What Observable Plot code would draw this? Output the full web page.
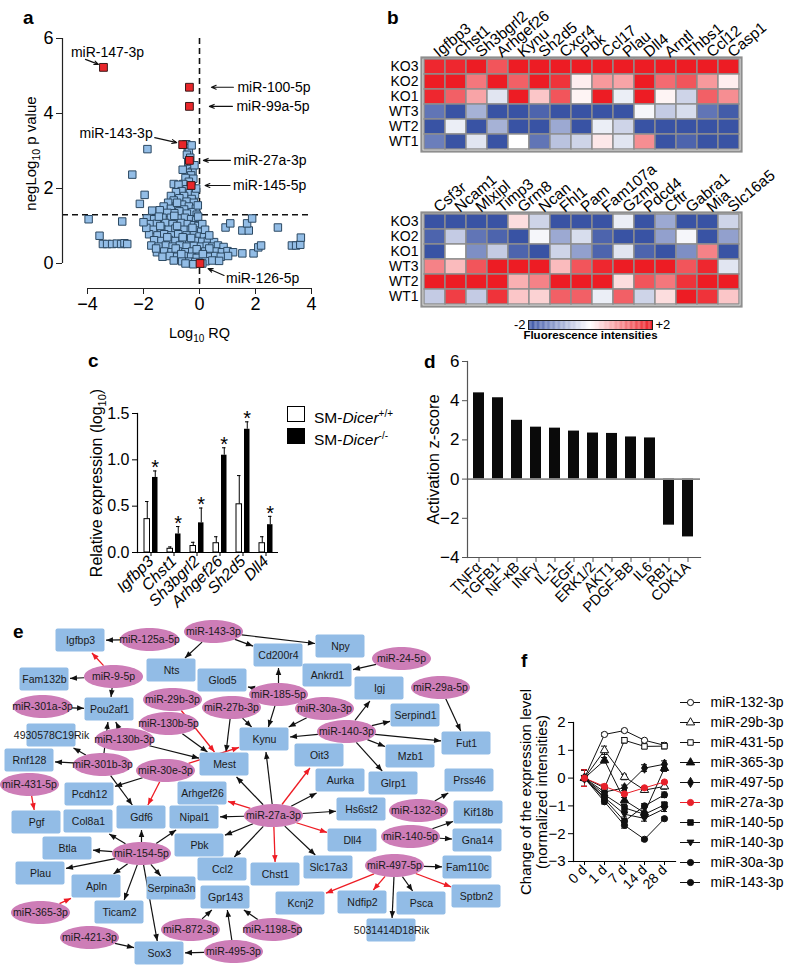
<!DOCTYPE html>
<html><head><meta charset="utf-8">
<script src="https://cdn.jsdelivr.net/npm/d3@7"></script>
<script src="https://cdn.jsdelivr.net/npm/@observablehq/plot@0.6"></script>
<style>
body{margin:0;background:#fff;}
#fig{position:relative;width:787px;height:966px;overflow:hidden;background:#fff;font-family:"Liberation Sans",Arial,Helvetica,sans-serif;color:#000;}
.letter{position:absolute;font-weight:bold;font-size:19px;line-height:1;}
.leg{position:absolute;font-size:15.5px;line-height:18px;white-space:nowrap;}
.sw{position:absolute;width:18px;height:16px;border:1px solid #000;box-sizing:border-box;}
</style></head><body><div id="fig"></div>
<script>
// ================= DATA =================
// ---- a: volcano plot (Log10 RQ, negLog10 p value)
const volcanoBlue = [
 [-3.96,1.18],[-2.76,1.12],[-3.57,0.74],[-3.45,0.52],[-3.3,0.52],[-3.12,0.52],[-2.95,0.53],[-2.8,0.52],[-2.68,0.54],[-2.58,0.52],
 [-2.4,2.37],[-1.86,3.05],[-1.96,1.83],[-2.13,1.59],[-1.69,1.41],
 [-0.47,3.18],[-0.42,3.08],[-0.38,2.98],[-0.45,2.9],[-0.33,2.82],[-0.4,2.7],[-0.3,2.6],[-0.36,2.52],[-0.25,2.45],[-0.42,2.42],
 [-0.3,2.35],[-0.5,2.28],[-0.22,2.26],[-0.38,2.18],[-0.58,2.12],[-0.92,2.12],[-0.75,2.1],[-0.28,2.05],[-0.46,1.98],[-0.64,1.93],
 [-0.84,1.9],[-0.34,1.88],[-0.16,1.84],[-1.02,1.8],[-0.55,1.8],[-0.72,1.74],[-0.28,1.72],[-0.92,1.68],[-0.46,1.65],[-1.12,1.62],
 [-0.2,1.62],[-0.62,1.57],[-0.82,1.54],[-1.28,1.52],[-0.38,1.52],[-0.13,1.46],[-1.02,1.46],[-0.55,1.44],[-0.72,1.39],[-1.42,1.42],
 [-0.26,1.37],[-0.9,1.34],[-0.45,1.33],[-0.1,1.3],[-0.06,1.55],[-0.12,2.0],[-0.18,2.62],[-0.28,3.15],[-0.6,2.5],[-0.8,1.62],[-1.15,1.35],
 [-1.88,1.2],[-1.62,1.18],[-1.32,1.22],[-1.02,1.22],[-0.76,1.2],[-0.52,1.22],[-0.3,1.18],[-0.12,1.15],
 [-1.76,1.05],[-1.52,1.06],[-1.22,1.08],[-0.96,1.05],[-0.66,1.08],[-0.42,1.05],[-0.2,1.02],[-0.04,1.0],
 [-1.66,0.9],[-1.36,0.92],[-1.1,0.9],[-0.86,0.93],[-0.56,0.9],[-0.31,0.9],[-0.1,0.88],[0.06,0.85],
 [-1.8,0.78],[-1.5,0.75],[-1.26,0.78],[-1.0,0.75],[-0.76,0.78],[-0.46,0.75],[-0.2,0.76],[0.0,0.72],[0.16,0.7],
 [-1.62,0.62],[-1.36,0.6],[-1.1,0.63],[-0.86,0.6],[-0.6,0.62],[-0.36,0.6],[-0.1,0.6],[0.1,0.58],[0.3,0.6],[0.52,0.57],
 [-1.72,0.48],[-1.46,0.45],[-1.2,0.48],[-0.96,0.45],[-0.7,0.48],[-0.46,0.45],[-0.2,0.47],[0.05,0.45],[0.26,0.47],[0.46,0.45],[0.66,0.48],[0.86,0.44],
 [-1.52,0.3],[-1.26,0.32],[-1.0,0.3],[-0.76,0.32],[-0.5,0.3],[-0.26,0.32],[0.0,0.3],[0.2,0.32],[0.4,0.3],[0.6,0.32],[0.8,0.3],[1.0,0.33],[1.2,0.3],
 [-1.32,0.18],[-1.06,0.2],[-0.8,0.18],[-0.56,0.2],[-0.3,0.18],[-0.1,0.15],[0.15,0.2],[0.36,0.18],[0.56,0.2],[0.76,0.18],[1.02,0.2],
 [-0.92,0.08],[-0.62,0.06],[-0.36,0.05],[-0.15,0.04],[0.22,0.06],[0.46,0.08],[0.7,0.07],[-0.5,0.0],[-0.22,-0.02],[0.1,0.0],
 [-1.4,1.0],[-0.8,1.0],[-0.25,0.95],[-1.15,0.7],[-0.6,0.7],[-0.3,0.68],[-1.55,0.4],[-0.85,0.4],[-0.1,0.38],[0.35,0.4],
 [-0.65,0.25],[0.12,0.25],[-1.9,0.95],[-2.0,1.1],[-1.45,1.25],[-0.9,1.27],[-0.05,1.25],[0.1,1.05],[0.2,0.9],[0.35,0.75],
 [0.93,0.96],[1.1,1.07],[1.53,0.88],[1.76,0.88],[1.7,1.07],[1.88,1.2],[1.53,0.27],[1.93,0.27],[2.1,0.43],[2.2,0.48],
 [2.8,0.96],[3.3,0.48],[3.45,0.48],[3.6,0.5],[3.62,0.69]
];
const volcanoRedNames = ["miR-147-3p","miR-100-5p","miR-99a-5p","miR-143-3p","miR-27a-3p","miR-145-5p","miR-126-5p"];
const volcanoRedX = [-3.43,-0.36,-0.36,-0.6,-0.36,-0.3,0.02];
const volcanoRedY = [5.23,4.7,4.19,3.17,2.75,2.08,0.0];
const aXTicks = [-4,-2,0,2,4];
const aYTicks = [0,2,4,6];
const pThreshold = 1.3;

// ---- b: heatmaps
const hmSamples = ["KO3","KO2","KO1","WT3","WT2","WT1"];
const hmTopGenes = ["Igfbp3","Chst1","Sh3bgrl2","Arhgef26","Kynu","Sh2d5","Cxcr4","Pbk","Ccl17","Plau","Dll4","Arntl","Thbs1","Ccl12","Casp1"];
const hmTopValues = [
 [1.9,1.9,2,1.5,2,2,2,2,2,2,2,2,2,2,2],
 [2,2,1.2,2,1.4,2,1.8,0.15,0.9,0.8,2,1.3,1.5,0.9,0.15],
 [1.9,1.4,0.8,-0.3,2,0.5,1.5,0.1,2,-0.2,2,0.1,-0.5,1.4,1.0],
 [-1.6,-2,-0.9,-2,-2,-1.8,-2,-2,-2,-2,-0.1,-0.6,-0.4,-1.6,-1.9],
 [-2,-0.2,-2,-0.9,-2,-2,-1,-2,-0.2,-0.5,-2,-2,-2,-2,-2],
 [-1.5,-2,-0.3,-2,0,-1.6,-0.7,-0.5,0.2,-0.3,1.0,-2,-1.8,-2,-2]
];
const hmBottomGenes = ["Csf3r","Ncam1","Mlxipl","Timp3","Grm8","Ncan","Fhl1","Pam","Fam107a","Gzmb","Pdcd4","Cftr","Gabra1","Mia","Slc16a5"];
const hmBottomValues = [
 [-2,-2,-2,-2,0.3,-0.5,-2,-2,-2,-0.2,-2,-1,-2,-2,-0.5],
 [-1.8,-0.6,-1.6,-1.8,-2,-0.1,-1,-0.4,-1.8,-2,-2,-1.1,-0.1,-2,-1.1],
 [-2,0,-1.3,-0.6,-1.8,-2,-0.5,-1.1,-1.8,-0.3,-1.8,-2,-1.3,1.1,-2],
 [1.1,0.6,1.5,2,2,2,0.6,1.5,1.9,2,2,2,1.5,1.9,-0.3],
 [2,2,2,2,0.7,1.1,2,2,2,0.3,1.5,1.2,1.8,2,2],
 [-0.6,1.7,-0.6,1.8,0.5,0.4,1.4,1.4,-0.2,1.4,-0.5,0.3,2,1.8,0.5]
];
const hmRange = [-2, 2];

// ---- c: relative expression
const cGenes = ["Igfbp3","Chst1","Sh3bgrl2","Arhgef26","Sh2d5","Dll4"];
const cWT = [0.36,0.04,0.07,0.10,0.52,0.10];
const cWTErr = [0.19,0.02,0.04,0.07,0.31,0.07];
const cKO = [0.81,0.20,0.32,1.05,1.33,0.30];
const cKOErr = [0.07,0.08,0.16,0.08,0.08,0.09];
const cYTicks = [0,0.5,1,1.5];

// ---- d: activation z-score
const dPathways = ["TNFα","TGFB1","NF-κB","INFγ","IL-1","EGF","ERK1/2","AKT1","PDGF-BB","IL6","RB1","CDK1A"];
const dZ = [4.4,4.15,3.0,2.65,2.6,2.45,2.35,2.33,2.15,2.1,-2.35,-2.95];
const dYTicks = [-4,-2,0,2,4,6];

// ---- e: network
const geneNodes = [
 ["Igfbp3",80,640],["Cd200r4",278,655],["Nts",171,670],["Fam132b",44,679],["Glod5",222,680],["Npy",340,646],
 ["Ankrd1",327,675],["Igj",379,688],["Serpind1",415,715],["Pou2af1",109,709],["4930578C19Rik",51,735],["Kynu",264,739],
 ["Fut1",466,743],["Rnf128",29,760],["Mest",224,764],["Oit3",319,755],["Mzb1",410,756],["Aurka",340,780],
 ["Glrp1",393,783],["Prss46",469,780],["Pcdh12",89,794],["Arhgef26",202,793],["Hs6st2",361,809],["Kif18b",478,812],
 ["Pgf",36,822],["Col8a1",88,821],["Gdf6",141,817],["Nipal1",194,817],["Dll4",352,840],["Gna14",477,840],
 ["Pbk",199,845],["Btla",67,848],["Slc17a3",328,867],["Fam110c",467,867],["Ccl2",222,869],["Chst1",275,874],
 ["Plau",40,873],["Apln",96,886],["Serpina3n",171,888],["Gpr143",225,897],["Sptbn2",476,896],["Kcnj2",300,903],
 ["Ndfip2",362,902],["Psca",421,903],["Ticam2",119,912],["5031414D18Rik",391,930],["Sox3",159,953]
];
const mirNodes = [
 ["miR-125a-5p",149,639],["miR-143-3p",213,631],["miR-9-5p",113,676],["miR-185-5p",278,694],["miR-24-5p",401,658],
 ["miR-29a-5p",440,687],["miR-29b-3p",172,699],["miR-301a-3p",42,706],["miR-27b-3p",231,707],["miR-30a-3p",324,708],
 ["miR-130b-5p",168,723],["miR-140-3p",346,731],["miR-130b-3p",124,739],["miR-301b-3p",102,764],["miR-30e-3p",165,770],
 ["miR-431-5p",29,784],["miR-27a-3p",273,815],["miR-132-3p",418,810],["miR-140-5p",410,836],["miR-154-5p",141,853],
 ["miR-497-5p",394,865],["miR-365-3p",40,912],["miR-872-3p",190,929],["miR-1198-5p",272,929],["miR-421-3p",89,937],
 ["miR-495-3p",233,951]
];
const edgesBlack = [
 ["miR-125a-5p","Igfbp3"],["miR-9-5p","Fam132b"],["miR-9-5p","Pou2af1"],["miR-301a-3p","Pou2af1"],
 ["miR-143-3p","Nts"],["miR-143-3p","Cd200r4"],["miR-143-3p","Npy"],["miR-185-5p","Glod5"],["miR-185-5p","Cd200r4"],
 ["miR-185-5p","Kynu"],["miR-27b-3p","Kynu"],["miR-27b-3p","Mest"],["miR-130b-5p","Mest"],["miR-130b-3p","Pou2af1"],
 ["miR-130b-3p","Mest"],["miR-301b-3p","Rnf128"],["miR-301b-3p","Pou2af1"],["miR-301b-3p","4930578C19Rik"],
 ["miR-301b-3p","Gdf6"],["miR-30e-3p","Pcdh12"],["miR-30a-3p","Kynu"],["miR-24-5p","Ankrd1"],["miR-29a-5p","Fut1"],
 ["miR-140-3p","Kynu"],["miR-140-3p","Igj"],["miR-140-3p","Serpind1"],["miR-140-3p","Fut1"],["miR-140-3p","Mzb1"],
 ["miR-140-3p","Glrp1"],["miR-27a-3p","Mest"],["miR-27a-3p","Kynu"],["miR-27a-3p","Nipal1"],["miR-27a-3p","Pbk"],
 ["miR-27a-3p","Ccl2"],["miR-27a-3p","Aurka"],["miR-27a-3p","Hs6st2"],["miR-27a-3p","Slc17a3"],["miR-132-3p","Prss46"],
 ["miR-140-5p","Kif18b"],["miR-140-5p","Gna14"],["miR-497-5p","Fam110c"],["miR-497-5p","Psca"],["miR-497-5p","5031414D18Rik"],
 ["miR-154-5p","Gdf6"],["miR-154-5p","Nipal1"],["miR-154-5p","Col8a1"],["miR-154-5p","Btla"],["miR-154-5p","Plau"],
 ["miR-154-5p","Apln"],["miR-154-5p","Ticam2"],["miR-154-5p","Sox3"],["miR-154-5p","Serpina3n"],["miR-421-3p","Sox3"],
 ["miR-495-3p","Sox3"],["miR-495-3p","Gpr143"],["miR-872-3p","Gpr143"],["miR-1198-5p","Gpr143"]
];
const edgesRed = [
 ["miR-9-5p","Igfbp3"],["miR-29b-3p","Mest"],["miR-30e-3p","Gdf6"],["miR-30e-3p","Kynu"],["miR-27a-3p","Arhgef26"],
 ["miR-27a-3p","Chst1"],["miR-27a-3p","Dll4"],["miR-27a-3p","Oit3"],["miR-497-5p","Kcnj2"],["miR-497-5p","Ndfip2"],
 ["miR-497-5p","Sptbn2"],["miR-431-5p","Pgf"],["miR-365-3p","Apln"]
];

// ---- f: time course
const fDays = ["0 d","1 d","7 d","14 d","28 d"];
const fSeries = ["miR-132-3p","miR-29b-3p","miR-431-5p","miR-365-3p","miR-497-5p","miR-27a-3p","miR-140-5p","miR-140-3p","miR-30a-3p","miR-143-3p"];
const f132_3p = [0, 1.57, 1.71, 1.36, 1.18];
const f29b_3p = [0, 1.0, 0.04, -0.43, -0.3];
const f431_5p = [0, -0.35, 1.36, 1.14, 1.15];
const f365_3p = [0, 0.64, -0.8, -1.25, 0.36];
const f497_5p = [0, -0.5, -0.35, 0.36, 0.5];
const f27a_3p = [0, -0.3, -0.57, -0.35, -0.14];
const f140_5p = [0, -0.6, -1.07, -1.3, -0.96];
const f140_3p = [0, -0.7, -1.3, -1.45, -1.1];
const f30a_3p = [0, -0.75, -1.55, -1.0, -0.6];
const f143_3p = [0, -0.85, -1.7, -2.2, -1.46];
const f132_3pErr = [0.3,0.06,0.05,0.06,0.1];
const f29b_3pErr = [0.3,0.15,0.1,0.08,0.1];
const f431_5pErr = [0.3,0.08,0.1,0.08,0.1];
const f365_3pErr = [0.3,0.1,0.1,0.1,0.12];
const f497_5pErr = [0.3,0.1,0.1,0.12,0.12];
const f27a_3pErr = [0.3,0.08,0.06,0.05,0.05];
const f140_5pErr = [0.3,0.1,0.12,0.1,0.1];
const f140_3pErr = [0.3,0.08,0.1,0.1,0.1];
const f30a_3pErr = [0.3,0.08,0.1,0.08,0.1];
const f143_3pErr = [0.3,0.08,0.1,0.06,0.06];
const fYTicks = [-3,-2,-1,0,1,2];

// ================= DRAWING =================
const FONT = '"Liberation Sans", Arial, Helvetica, sans-serif';
const fig = document.getElementById("fig");
const baseStyle = {fontFamily: FONT, fontSize: "14px", overflow: "visible", background: "transparent", color: "#000"};
function mount(el, left, top) { el.style.position = "absolute"; el.style.left = left + "px"; el.style.top = top + "px"; fig.appendChild(el); return el; }
function rich(svg, full, html) {
  d3.select(svg).selectAll("text").filter(function() { return this.textContent === full; }).html(html);
}
function letter(t, left, top) { const d = document.createElement("div"); d.className = "letter"; d.textContent = t; d.style.left = left + "px"; d.style.top = top + "px"; fig.appendChild(d); }

// ---------- Panel a ----------
{
  const pxX = 28, pxY = 37.5, gap = 25;           // px per unit, offset of axes
  const xMin = aXTicks[0] - gap / pxX, yMin = aYTicks[0] - gap / pxY;
  const red = volcanoRedNames.map((n, i) => ({name: n, x: volcanoRedX[i], y: volcanoRedY[i]}));
  const layout = {
    "miR-147-3p": {t: [4, -15], anchor: "middle", a: [[-18, -8], [-5, -3]]},
    "miR-100-5p": {t: [48, 0], anchor: "start", a: [[44, 0], [22, 0]]},
    "miR-99a-5p": {t: [47, 0], anchor: "start", a: [[43, 0], [20, 0]]},
    "miR-143-3p": {t: [-30, -11], anchor: "end", a: [[-28, -7], [-6, -2]]},
    "miR-27a-3p": {t: [44, 0], anchor: "start", a: [[41, 0], [14, 0]]},
    "miR-145-5p": {t: [42, 0], anchor: "start", a: [[39, 0], [14, 0]]},
    "miR-126-5p": {t: [26, 15], anchor: "start", a: [[24, 12], [8, 5]]}
  };
  const notes = red.map(d => {
    const L = layout[d.name];
    return {...d, anchor: L.anchor,
      tx: d.x + L.t[0] / pxX, ty: d.y - L.t[1] / pxY,
      x1: d.x + L.a[0][0] / pxX, y1: d.y - L.a[0][1] / pxY,
      x2: d.x + L.a[1][0] / pxX, y2: d.y - L.a[1][1] / pxY};
  });
  const textMarks = ["start", "middle", "end"].map(an =>
    Plot.text(notes.filter(d => d.anchor === an), {x: "tx", y: "ty", text: "name", textAnchor: an, fontSize: 14}));
  const p = Plot.plot({
    width: 330, height: 345, marginLeft: 62, marginRight: 19, marginTop: 38, marginBottom: 57,
    style: baseStyle,
    x: {domain: [xMin, aXTicks[aXTicks.length - 1]], label: null},
    y: {domain: [yMin, aYTicks[aYTicks.length - 1]], label: null},
    marks: [
      Plot.ruleY([pThreshold], {strokeDasharray: "6,4", strokeWidth: 1.6, stroke: "#111"}),
      Plot.ruleX([0], {strokeDasharray: "6,4", strokeWidth: 1.6, stroke: "#111"}),
      Plot.dot(volcanoBlue, {x: d => d[0], y: d => d[1], symbol: "square", r: 4.2, fill: "#93bde6", stroke: "#2b4862", strokeWidth: 1}),
      Plot.dot(red, {x: "x", y: "y", symbol: "square", r: 4.4, fill: "#e8262a", stroke: "#3a1a1a", strokeWidth: 1}),
      Plot.ruleX([xMin], {y1: aYTicks[0], y2: aYTicks[aYTicks.length - 1], strokeWidth: 1.2, stroke: "#222"}),
      Plot.ruleY([yMin], {x1: aXTicks[0], x2: aXTicks[aXTicks.length - 1], strokeWidth: 1.2, stroke: "#222"}),
      Plot.axisY(aYTicks, {tickSize: 6, tickPadding: 3, fontSize: 18, stroke: "#222"}),
      Plot.axisX(aXTicks, {tickSize: 6, tickPadding: 3, fontSize: 18, stroke: "#222"}),
      Plot.arrow(notes, {x1: "x1", y1: "y1", x2: "x2", y2: "y2", headLength: 7, headAngle: 45, strokeWidth: 1.1, stroke: "#111"}),
      ...textMarks,
      Plot.text(["negLog10 p value"], {frameAnchor: "left", textAnchor: "middle", rotate: -90, dx: -31, dy: -10, fontSize: 15}),
      Plot.text(["Log10 RQ"], {x: 0, frameAnchor: "bottom", textAnchor: "middle", dy: 49, fontSize: 14.5})
    ]
  });
  mount(p, 0, 0);
  rich(p, "negLog10 p value", 'negLog<tspan dy="4" font-size="10.5">10</tspan><tspan dy="-4"> p value</tspan>');
  rich(p, "Log10 RQ", 'Log<tspan dy="4" font-size="10">10</tspan><tspan dy="-4"> RQ</tspan>');
  letter("a", 23, 8);
}

// ---------- Panel b ----------
const hmColor = {type: "linear", domain: [hmRange[0], 0, hmRange[1]], range: ["#3953a4", "#ffffff", "#ed1c24"], clamp: true};
function heatmap(genes, values) {
  const cells = hmSamples.flatMap((s, i) => genes.map((g, j) => ({sample: s, gene: g, v: values[i][j]})));
  return Plot.plot({
    width: 400, height: 154, marginLeft: 41, marginRight: 39, marginTop: 57, marginBottom: 3,
    style: baseStyle,
    x: {domain: genes, padding: 0, axis: null, label: null},
    y: {domain: hmSamples, padding: 0, axis: null, label: null},
    color: hmColor,
    marks: [
      Plot.cell(cells, {x: "gene", y: "sample", fill: "v", stroke: "#8e8e8e", strokeWidth: 1.4}),
      Plot.frame({stroke: "#8e8e8e", strokeWidth: 2.2}),
      Plot.text(hmSamples, {y: d => d, frameAnchor: "left", textAnchor: "end", dx: -3, fontSize: 14}),
      Plot.text(genes, {x: d => d, frameAnchor: "top", textAnchor: "start", rotate: -40, dx: -3, dy: -8, fontSize: 15.5})
    ]
  });
}
mount(heatmap(hmTopGenes, hmTopValues), 380, 0);
mount(heatmap(hmBottomGenes, hmBottomValues), 380, 155);
{
  const ramp = d3.range(hmRange[0], hmRange[1], 0.04);
  const p = Plot.plot({
    width: 175, height: 35, marginLeft: 23, marginRight: 28, marginTop: 8, marginBottom: 18,
    style: baseStyle,
    x: {domain: hmRange, axis: null}, y: {domain: [0, 1], axis: null},
    color: hmColor,
    marks: [
      Plot.rect(ramp, {x1: d => d, x2: d => d + 0.042, y1: 0, y2: 1, fill: d => d + 0.02}),
      Plot.frame({stroke: "#222", strokeWidth: 1}),
      Plot.text(["-2"], {frameAnchor: "left", textAnchor: "end", dx: -3, fontSize: 13}),
      Plot.text(["+2"], {frameAnchor: "right", textAnchor: "start", dx: 3, fontSize: 13}),
      Plot.text(["Fluorescence intensities"], {frameAnchor: "bottom", textAnchor: "middle", dy: 9, fontSize: 11.5, fontWeight: "bold"})
    ]
  });
  mount(p, 505, 312);
  letter("b", 387, 8);
}

// ---------- Panel c ----------
{
  const data = cGenes.map((g, i) => ({gene: g, wt: cWT[i], wtErr: cWTErr[i], ko: cKO[i], koErr: cKOErr[i]}));
  const p = Plot.plot({
    width: 390, height: 240, marginLeft: 137, marginRight: 112, marginTop: 33, marginBottom: 68,
    style: baseStyle,
    x: {domain: cGenes, padding: 0, label: null},
    y: {domain: [cYTicks[0], cYTicks[cYTicks.length - 1]], label: null},
    marks: [
      Plot.ruleX(data, {x: "gene", y1: "wt", y2: d => d.wt + d.wtErr, dx: -3.75, strokeWidth: 1}),
      Plot.tickY(data, {x: "gene", y: d => d.wt + d.wtErr, insetLeft: 6, insetRight: 13.5, strokeWidth: 1}),
      Plot.ruleX(data, {x: "gene", y1: "ko", y2: d => d.ko + d.koErr, dx: 4.25, strokeWidth: 1}),
      Plot.tickY(data, {x: "gene", y: d => d.ko + d.koErr, insetLeft: 14, insetRight: 5.5, strokeWidth: 1}),
      Plot.barY(data, {x: "gene", y: "wt", fill: "white", stroke: "#000", strokeWidth: 1, insetLeft: 5, insetRight: 12.5}),
      Plot.barY(data, {x: "gene", y: "ko", fill: "#000", insetLeft: 13, insetRight: 4.5}),
      Plot.text(data, {x: "gene", y: d => d.ko + d.koErr, text: () => "*", dx: 4.25, dy: -3, fontSize: 20}),
      Plot.ruleY([0], {strokeWidth: 1.2}),
      Plot.frame({anchor: "left", strokeWidth: 1.2}),
      Plot.axisY(cYTicks, {tickFormat: d3.format(".1f"), tickSize: 5, tickPadding: 3, fontSize: 16}),
      Plot.axisX({tickSize: 4, tickRotate: -45, tickPadding: 2, fontSize: 16, fontStyle: "italic"}),
      Plot.text(["Relative expression (log10)"], {frameAnchor: "left", textAnchor: "middle", rotate: -90, dx: -41, fontSize: 16})
    ]
  });
  mount(p, 0, 380);
  rich(p, "Relative expression (log10)", 'Relative expression (log<tspan dy="4" font-size="11">10</tspan><tspan dy="-4">)</tspan>');
  letter("c", 88, 351);
  const add = (html, cls, left, top, extra) => { const d = document.createElement("div"); d.className = cls; d.innerHTML = html; d.style.left = left + "px"; d.style.top = top + "px"; if (extra) Object.assign(d.style, extra); fig.appendChild(d); };
  add("", "sw", 287, 406, {background: "#fff"});
  add("", "sw", 287, 428, {background: "#000"});
  add('SM-<i>Dicer</i><sup style="font-size:10px">+/+</sup>', "leg", 314, 405);
  add('SM-<i>Dicer</i><sup style="font-size:10px">-/-</sup>', "leg", 314, 427);
}

// ---------- Panel d ----------
{
  const data = dPathways.map((n, i) => ({name: n, z: dZ[i]}));
  const p = Plot.plot({
    width: 397, height: 280, marginLeft: 77, marginRight: 87, marginTop: 21, marginBottom: 63,
    style: baseStyle,
    x: {domain: dPathways, paddingInner: 0.41, paddingOuter: 0.205, label: null},
    y: {domain: [dYTicks[0], dYTicks[dYTicks.length - 1]], label: null},
    marks: [
      Plot.barY(data, {x: "name", y: "z", fill: "#0a0a0a"}),
      Plot.ruleY([0], {stroke: "#8a8a8a", strokeWidth: 1.6}),
      Plot.frame({anchor: "left", stroke: "#555", strokeWidth: 1.2}),
      Plot.frame({anchor: "bottom", stroke: "#555", strokeWidth: 1.2}),
      Plot.axisY(dYTicks, {tickSize: 5, tickPadding: 3, fontSize: 17, stroke: "#555"}),
      Plot.axisX({tickSize: 5, tickRotate: -45, tickPadding: 2, fontSize: 14.5, stroke: "#555"}),
      Plot.text(["Activation z-score"], {frameAnchor: "left", textAnchor: "middle", rotate: -90, dx: -34, fontSize: 16.5})
    ]
  });
  mount(p, 390, 340);
  letter("d", 424, 352);
}

// ---------- Panel e ----------
{
  const W = 49, H = 23, RX = 29.5, RY = 11.5;
  const genes = geneNodes.map(([name, x, y]) => ({name, x, y}));
  const mirs = mirNodes.map(([name, x, y]) => ({name, x, y}));
  const pos = new Map([...genes, ...mirs].map(d => [d.name, d]));
  function edgeXY([s, t]) {
    const a = pos.get(s), b = pos.get(t);
    const dx = b.x - a.x, dy = b.y - a.y;
    const ts = 1 / Math.sqrt((dx / RX) ** 2 + (dy / RY) ** 2);
    const te = Math.min((W / 2 + 1) / Math.abs(dx || 1e-9), (H / 2 + 1) / Math.abs(dy || 1e-9));
    return {x1: a.x + dx * ts, y1: a.y + dy * ts, x2: b.x - dx * te, y2: b.y - dy * te};
  }
  const ellipse = {draw(ctx) {
    const k = 0.5523;
    ctx.moveTo(RX, 0);
    ctx.bezierCurveTo(RX, RY * k, RX * k, RY, 0, RY);
    ctx.bezierCurveTo(-RX * k, RY, -RX, RY * k, -RX, 0);
    ctx.bezierCurveTo(-RX, -RY * k, -RX * k, -RY, 0, -RY);
    ctx.bezierCurveTo(RX * k, -RY, RX, -RY * k, RX, 0);
    ctx.closePath();
  }};
  const p = Plot.plot({
    width: 510, height: 406, margin: 0,
    style: baseStyle,
    x: {domain: [0, 510], range: [0, 510], axis: null},
    y: {domain: [560, 966], range: [0, 406], axis: null},
    marks: [
      Plot.link(edgesBlack.map(edgeXY), {x1: "x1", y1: "y1", x2: "x2", y2: "y2", stroke: "#111", strokeWidth: 1.2, markerEnd: "arrow"}),
      Plot.link(edgesRed.map(edgeXY), {x1: "x1", y1: "y1", x2: "x2", y2: "y2", stroke: "#ee1c24", strokeWidth: 1.3, markerEnd: "arrow"}),
      Plot.rect(genes, {x1: d => d.x - W / 2, x2: d => d.x + W / 2, y1: d => d.y - H / 2, y2: d => d.y + H / 2, fill: "#92bce6", rx: 2}),
      Plot.dot(mirs, {x: "x", y: "y", symbol: ellipse, r: 5, fill: "#cd7db7", stroke: "none"}),
      Plot.text([...genes, ...mirs], {x: "x", y: "y", text: "name", fontSize: 10.5, fill: "#1a1a1a"})
    ]
  });
  d3.select(p).selectAll("marker").each(function() {
    const m = d3.select(this);
    const c = m.attr("stroke");
    m.attr("viewBox", "-10 -5 11 10").attr("markerUnits", "userSpaceOnUse").attr("markerWidth", 8.5).attr("markerHeight", 8)
     .attr("fill", c).attr("stroke", "none");
    m.selectAll("*").remove();
    m.append("path").attr("d", "M-9,-3.6L0,0L-9,3.6Z");
  });
  mount(p, 0, 560);
  letter("e", 13, 622);
}

// ---------- Panel f ----------
{
  const values = [f132_3p, f29b_3p, f431_5p, f365_3p, f497_5p, f27a_3p, f140_5p, f140_3p, f30a_3p, f143_3p];
  const errors = [f132_3pErr, f29b_3pErr, f431_5pErr, f365_3pErr, f497_5pErr, f27a_3pErr, f140_5pErr, f140_3pErr, f30a_3pErr, f143_3pErr];
  const triDown = {draw(ctx, size) { const h = Math.sqrt(size) * 0.62; ctx.moveTo(-h, -h * 0.7); ctx.lineTo(h, -h * 0.7); ctx.lineTo(0, h * 1.0); ctx.closePath(); }};
  const K = "#111", R = "#e8202a";
  const styles = [
    {symbol: "circle", fill: "white", c: K}, {symbol: "triangle", fill: "white", c: K}, {symbol: "square", fill: "white", c: K},
    {symbol: "triangle", fill: K, c: K}, {symbol: "diamond", fill: K, c: K}, {symbol: "circle", fill: R, c: R},
    {symbol: "square", fill: K, c: K}, {symbol: triDown, fill: K, c: K}, {symbol: "circle", fill: K, c: K}, {symbol: "circle", fill: K, c: K}
  ];
  const rows = fSeries.map((s, i) => fDays.map((d, j) => ({series: s, day: d, v: values[i][j], e: errors[i][j]})));
  const order = [0,1,2,3,4,6,7,8,9,5];
  const lines = order.map(i => Plot.line(rows[i], {x: "day", y: "v", stroke: styles[i].c, strokeWidth: 1}));
  const errs = order.flatMap(i => [
    Plot.ruleX(rows[i], {x: "day", y1: d => d.v - d.e, y2: d => d.v + d.e, stroke: styles[i].c, strokeWidth: 1}),
    Plot.ruleY(rows[i], {y: d => d.v + d.e, x1: "day", x2: "day", insetLeft: -3, insetRight: -3, stroke: styles[i].c, strokeWidth: 1}),
    Plot.ruleY(rows[i], {y: d => d.v - d.e, x1: "day", x2: "day", insetLeft: -3, insetRight: -3, stroke: styles[i].c, strokeWidth: 1})
  ]);
  const dots = order.map(i => Plot.dot(rows[i], {x: "day", y: "v", symbol: styles[i].symbol, fill: styles[i].fill, stroke: styles[i].c, r: 3.1, strokeWidth: 1}));
  const p = Plot.plot({
    width: 160, height: 280, marginLeft: 53, marginRight: 5, marginTop: 82, marginBottom: 59,
    style: baseStyle,
    x: {type: "point", domain: fDays, padding: 0.43, label: null},
    y: {domain: [fYTicks[0], fYTicks[fYTicks.length - 1]], label: null},
    marks: [
      ...lines, ...errs, ...dots,
      Plot.frame({anchor: "left", strokeWidth: 1.2}),
      Plot.frame({anchor: "bottom", strokeWidth: 1.2}),
      Plot.axisY(fYTicks, {tickSize: 5, tickPadding: 3, fontSize: 15}),
      Plot.axisX({tickSize: 4, tickRotate: -45, tickPadding: 2, fontSize: 14}),
      Plot.text(["Change of the expression level\n(normalized intensities)"], {frameAnchor: "left", textAnchor: "middle", rotate: -90, dx: -40, fontSize: 15, lineHeight: 1.08})
    ]
  });
  mount(p, 520, 640);
  letter("f", 521, 651);
  // legend
  const legMarks = [];
  fSeries.forEach((s, i) => {
    legMarks.push(Plot.ruleY([s], {y: d => d, x1: 5, x2: 25, stroke: styles[i].c, strokeWidth: 1}));
    legMarks.push(Plot.dot([s], {y: d => d, x: 15, symbol: styles[i].symbol, fill: styles[i].fill, stroke: styles[i].c, r: 3.1, strokeWidth: 1}));
  });
  legMarks.push(Plot.text(fSeries, {y: d => d, x: 35, text: d => d, textAnchor: "start", fontSize: 14}));
  const leg = Plot.plot({
    width: 112, height: 183, margin: 0, style: baseStyle,
    x: {domain: [0, 112], range: [0, 112], axis: null},
    y: {domain: fSeries, range: [0, 183], padding: 0, axis: null},
    marks: legMarks
  });
  mount(leg, 675, 700);
}
</script></body></html>
